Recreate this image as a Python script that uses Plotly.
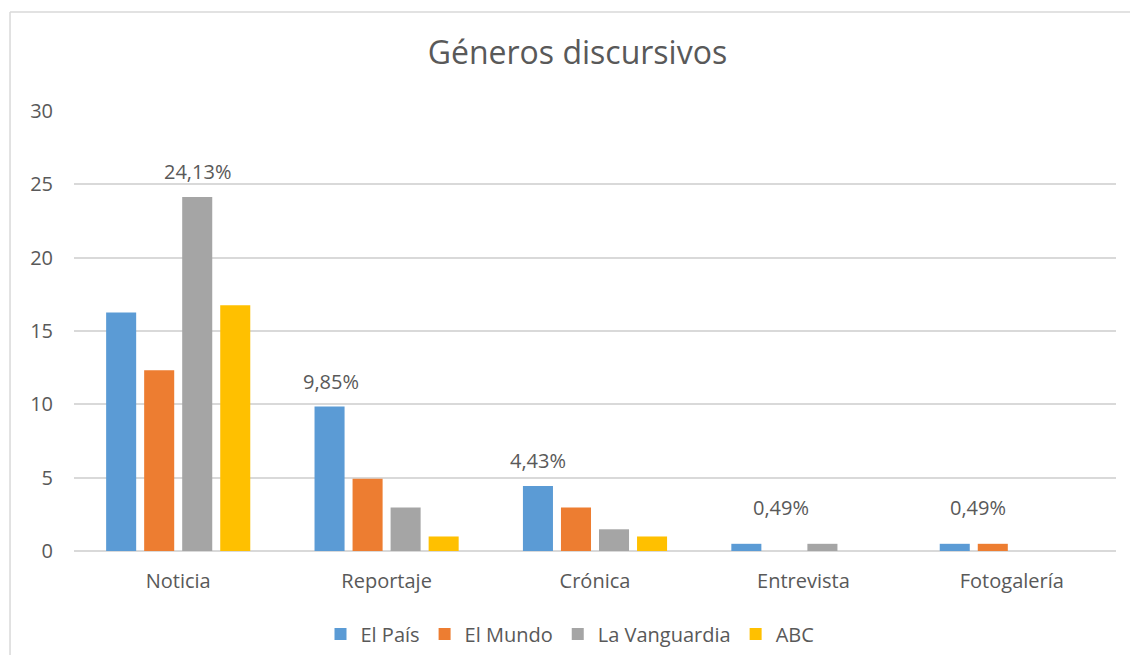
import plotly.graph_objects as go

categories = ["Noticia", "Reportaje", "Crónica", "Entrevista", "Fotogalería"]
series_names = ["El País", "El Mundo", "La Vanguardia", "ABC"]
el_pais = [16.26, 9.85, 4.43, 0.49, 0.49]
el_mundo = [12.32, 4.93, 2.96, 0, 0.49]
la_vanguardia = [24.13, 2.96, 1.48, 0.49, 0]
abc = [16.75, 0.99, 0.99, 0, 0]
colors = ["#5B9BD5", "#ED7D31", "#A5A5A5", "#FFC000"]
y_ticks = [0, 5, 10, 15, 20, 25, 30]

# labels: (category, value, text, xshift)
labels = [
    ("Noticia", 24.13, "24,13%", 19),
    ("Reportaje", 9.85, "9,85%", -56),
    ("Crónica", 4.43, "4,43%", -57),
    ("Entrevista", 0.49, "0,49%", -22),
    ("Fotogalería", 0.49, "0,49%", -34),
]

FONT = "Open Sans"
TXT = "#595959"

fig = go.Figure()
for name, vals, col in zip(series_names, [el_pais, el_mundo, la_vanguardia, abc], colors):
    fig.add_trace(go.Bar(x=categories, y=vals, name=name, marker_color=col,
                         marker_line_width=0, hoverinfo="skip"))

annotations = []
for cat, val, txt, xs in labels:
    annotations.append(dict(x=cat, y=val, xref="x", yref="y", text=txt,
                            showarrow=False, xshift=xs, yanchor="bottom",
                            yshift=10 if val > 1 else 21,
                            font=dict(family=FONT, size=20, color=TXT)))

fig.update_layout(
    width=1130, height=655,
    margin=dict(l=74, r=14, t=111, b=104),
    paper_bgcolor="white", plot_bgcolor="white",
    barmode="group", bargap=0.27, bargroupgap=0.21,
    title=dict(text="Géneros discursivos", x=0.511, xanchor="center",
               y=1 - 53 / 655, yanchor="middle", automargin=False,
               font=dict(family=FONT, size=32, color=TXT)),
    font=dict(family=FONT, size=20, color=TXT),
    showlegend=True,
    legend=dict(orientation="h", xref="container", yref="container",
                x=570 / 1130, xanchor="center", y=1 - 634 / 655, yanchor="middle",
                font=dict(family=FONT, size=20, color=TXT), traceorder="normal"),
    annotations=annotations,
    xaxis=dict(showgrid=False, showline=False, ticks="", zeroline=False, automargin=False,
               tickfont=dict(family=FONT, size=20, color=TXT), ticklabelstandoff=16),
    yaxis=dict(range=[0, 30], tickvals=y_ticks, showgrid=True, gridcolor="#D9D9D9",
               gridwidth=1.5, zeroline=True, zerolinecolor="#D9D9D9", zerolinewidth=1.5,
               showline=False, ticks="", automargin=False,
               tickfont=dict(family=FONT, size=20, color=TXT), ticklabelstandoff=20),
    shapes=[
        dict(type="line", xref="paper", yref="paper", x0=-0.0614, x1=-0.0614,
             y0=-0.5, y1=1.225, line=dict(color="#D9D9D9", width=1.5)),
        dict(type="line", xref="paper", yref="paper", x0=-0.0614, x1=1.1,
             y0=1.225, y1=1.225, line=dict(color="#D9D9D9", width=1.5)),
    ],
)

fig.write_html("out.html", config={"displayModeBar": False},
               post_script="document.body.style.margin='0';document.body.style.padding='0';")
